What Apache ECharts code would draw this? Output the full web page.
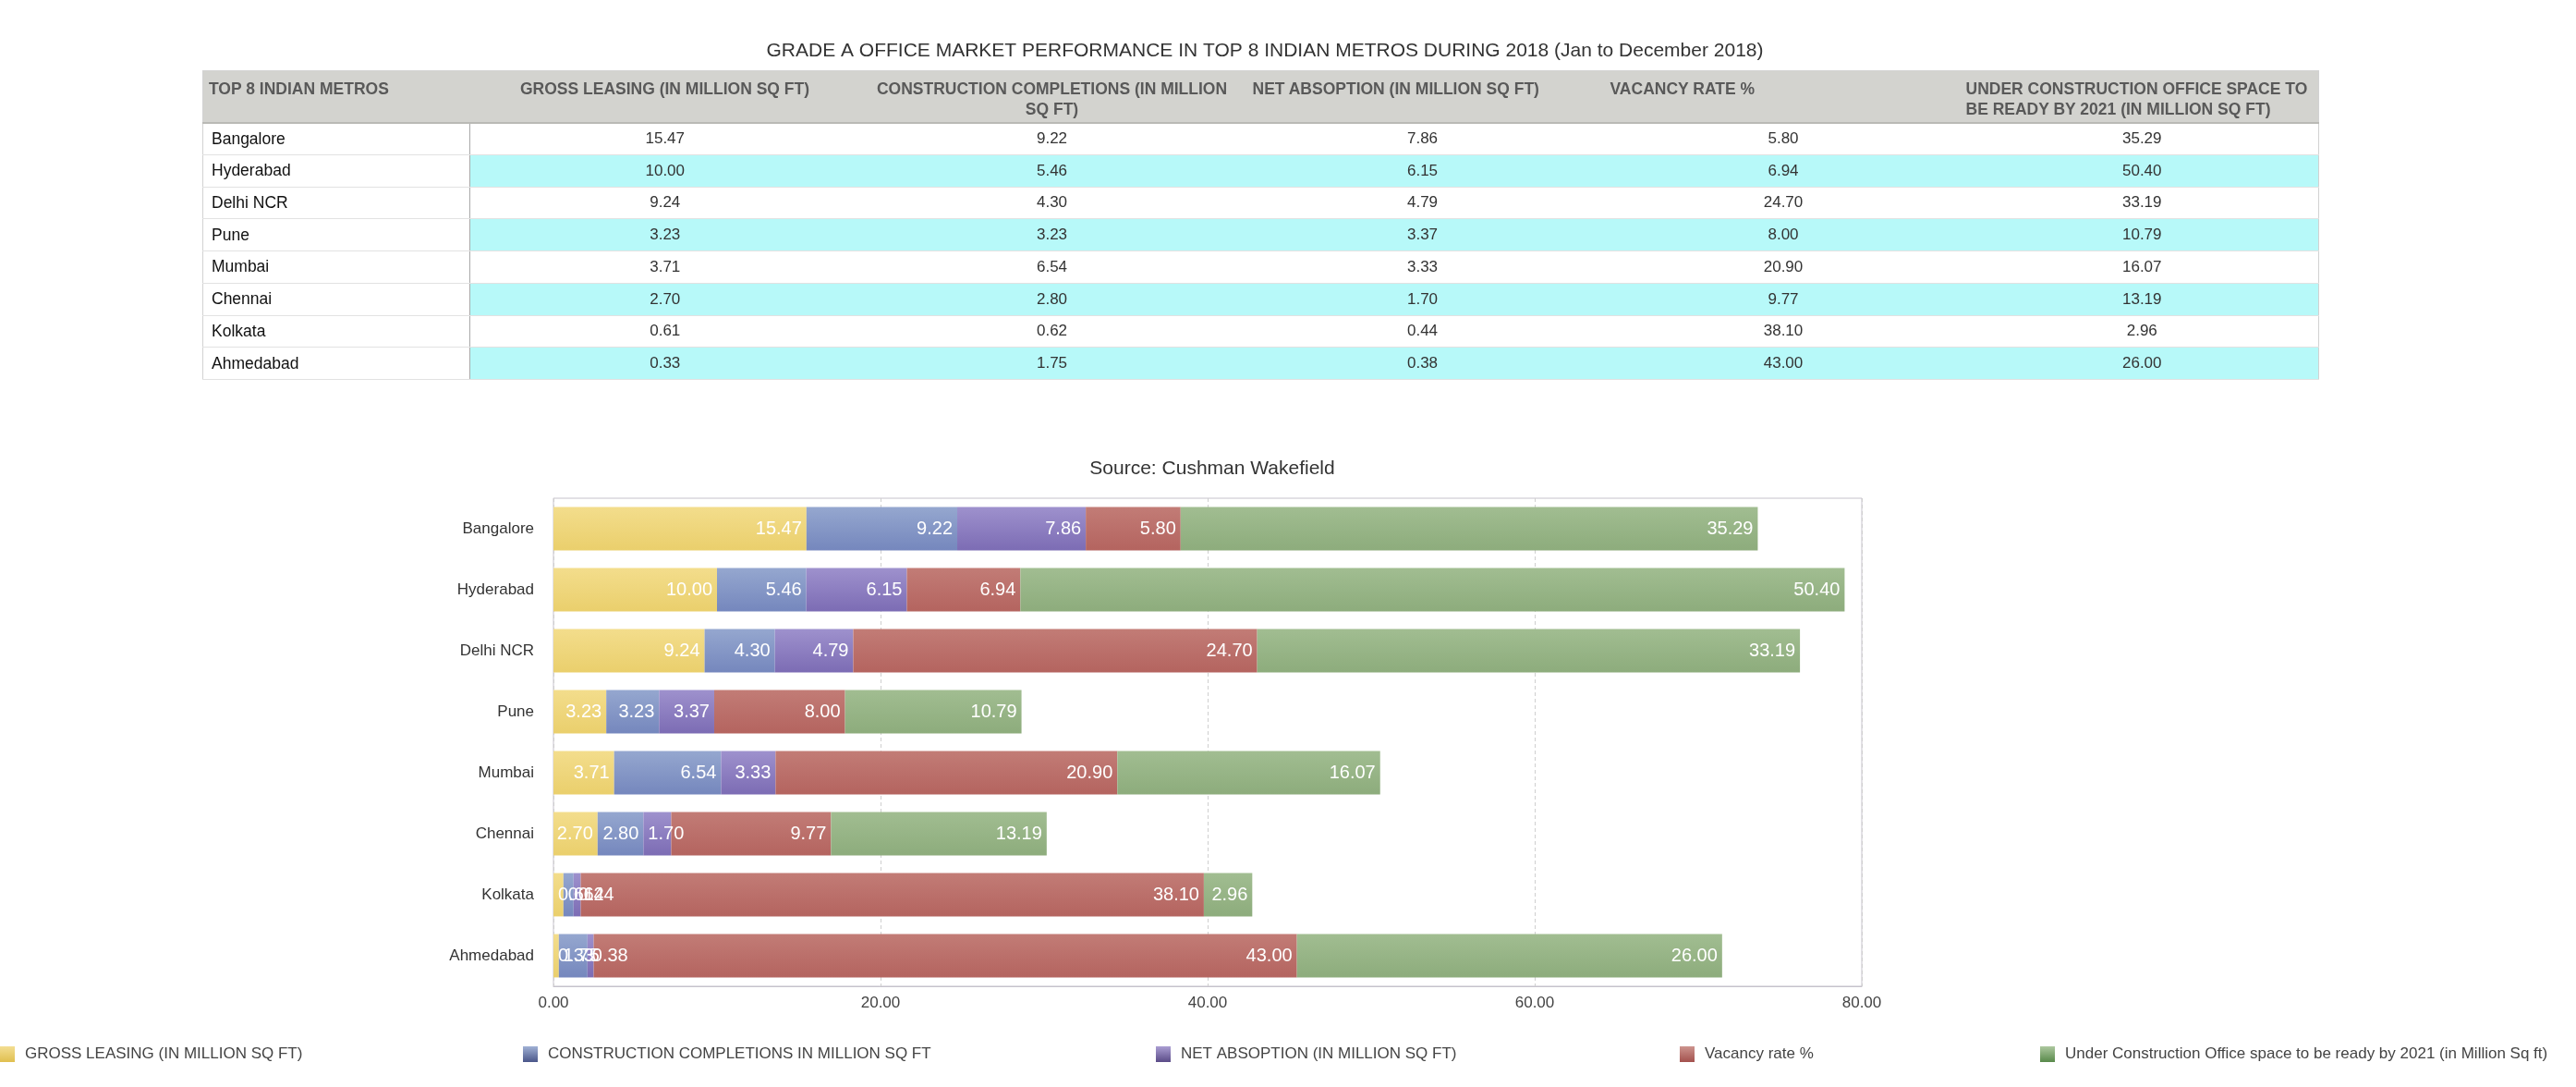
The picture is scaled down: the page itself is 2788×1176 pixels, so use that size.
<!DOCTYPE html>
<html>
<head>
<meta charset="utf-8">
<script src="https://cdn.jsdelivr.net/npm/echarts@6/dist/echarts.min.js"></script>
<style>
html,body{margin:0;padding:0;background:#fff;width:2788px;height:1176px;overflow:hidden;font-family:"Liberation Sans",Arial,Helvetica,sans-serif;}
#chart{position:absolute;left:0;top:0;width:2788px;height:1176px;}
#tbl{position:absolute;left:219px;top:76px;width:2290px;border-collapse:collapse;table-layout:fixed;z-index:2;border:1px solid #d2d2d2;}
#tbl th{background:#d3d3cf;color:#595959;font-weight:bold;font-size:17.5px;line-height:22px;vertical-align:top;padding:0;white-space:pre;border-bottom:2px solid #b9b9b5;}
#tbl th div{padding-top:8px;}
#tbl thead tr{height:56px;}
#tbl tbody tr{height:34.75px;}
#tbl td{font-size:17px;color:#333;text-align:center;vertical-align:middle;padding:0;border-bottom:1px solid #e2e2e2;}
#tbl td.name{text-align:left;padding-left:9px;color:#111;border-right:1px solid #a9a9a9;background:#fff;font-size:17.5px;}
#tbl tr.alt td{background:#b7f9f9;}
#tbl tr.alt td.name{background:#fff;}
</style>
</head>
<body>
<div id="chart"></div>
<table id="tbl"><colgroup id="cols"></colgroup><thead><tr id="head"></tr></thead><tbody id="body"></tbody></table>
<script>
// ---------- DATA ----------
const metros = ["Bangalore", "Hyderabad", "Delhi NCR", "Pune", "Mumbai", "Chennai", "Kolkata", "Ahmedabad"];
const grossLeasing = [15.47, 10.00, 9.24, 3.23, 3.71, 2.70, 0.61, 0.33];
const constructionCompletions = [9.22, 5.46, 4.30, 3.23, 6.54, 2.80, 0.62, 1.75];
const netAbsorption = [7.86, 6.15, 4.79, 3.37, 3.33, 1.70, 0.44, 0.38];
const vacancyRate = [5.80, 6.94, 24.70, 8.00, 20.90, 9.77, 38.10, 43.00];
const underConstruction = [35.29, 50.40, 33.19, 10.79, 16.07, 13.19, 2.96, 26.00];
const tableHeaders = [
  "TOP 8 INDIAN METROS",
  "GROSS LEASING (IN MILLION SQ FT)",
  "CONSTRUCTION COMPLETIONS (IN MILLION\nSQ FT)",
  "NET ABSOPTION (IN MILLION SQ FT)",
  "VACANCY RATE %",
  "UNDER CONSTRUCTION OFFICE SPACE TO\nBE READY BY 2021 (IN MILLION SQ FT)"
];
const seriesNames = [
  "GROSS LEASING (IN MILLION SQ FT)",
  "CONSTRUCTION COMPLETIONS IN MILLION SQ FT",
  "NET ABSOPTION (IN MILLION SQ FT)",
  "Vacancy rate %",
  "Under Construction Office space to be ready by 2021 (in Million Sq ft)"
];
const xTicks = [0, 20, 40, 60, 80];
const mainTitle = "GRADE A OFFICE MARKET PERFORMANCE IN TOP 8 INDIAN METROS DURING 2018 (Jan to December 2018)";
const sourceTitle = "Source: Cushman Wakefield";

// ---------- STYLE ----------
const FONT = '"Liberation Sans", Arial, Helvetica, sans-serif';
const colWidths = [289, 422, 416, 386, 395, 382];
const headAlign = [
  {align:'left', pad:6}, {align:'center', pad:0}, {align:'center', pad:0},
  {align:'left', pad:9}, {align:'left', pad:10}, {align:'left', pad:0}
];
const barColors = [
  ['#f3dd8c', '#eacf6c'],
  ['#95a7cf', '#7587bd'],
  ['#9e91cd', '#7c6cb4'],
  ['#c27c76', '#b4645f'],
  ['#a1bd91', '#8dac7c']
];
const iconColors = [
  ['#f3de92', '#e0bf4f'],
  ['#a0b1d5', '#4a5689'],
  ['#aa9ed3', '#5a4b87'],
  ['#cd948e', '#a3514d'],
  ['#adc89f', '#58894a']
];
const legendLefts = [0, 566, 1251, 1818, 2208];
const LABEL_FIT_MIN = 2.5; // bars narrower than this (in axis units) get their label at the bar start

// ---------- TABLE ----------
const seriesData = [grossLeasing, constructionCompletions, netAbsorption, vacancyRate, underConstruction];
const cols = document.getElementById('cols');
colWidths.forEach(w => { const c = document.createElement('col'); c.style.width = w + 'px'; cols.appendChild(c); });
const head = document.getElementById('head');
tableHeaders.forEach((h, i) => {
  const th = document.createElement('th');
  th.style.textAlign = headAlign[i].align;
  const d = document.createElement('div');
  d.style.paddingLeft = headAlign[i].pad + 'px';
  d.textContent = h;
  th.appendChild(d);
  head.appendChild(th);
});
const body = document.getElementById('body');
metros.forEach((m, r) => {
  const tr = document.createElement('tr');
  if (r % 2 === 1) tr.className = 'alt';
  const tdn = document.createElement('td');
  tdn.className = 'name';
  tdn.textContent = m;
  tr.appendChild(tdn);
  seriesData.forEach(arr => {
    const td = document.createElement('td');
    td.textContent = arr[r].toFixed(2);
    tr.appendChild(td);
  });
  body.appendChild(tr);
});

// ---------- CHART ----------
function grad(c) {
  return new echarts.graphic.LinearGradient(0, 0, 0, 1, [{offset:0, color:c[0]}, {offset:1, color:c[1]}]);
}
const chart = echarts.init(document.getElementById('chart'), null, {renderer:'canvas'});
const option = {
  animation: false,
  textStyle: {fontFamily: FONT},
  title: [
    {text: mainTitle, left: 1364, top: 40, textAlign: 'center',
     textStyle: {fontSize: 21, fontWeight: 'normal', color: '#333', fontFamily: FONT}},
    {text: sourceTitle, left: 1307, top: 492, textAlign: 'center',
     textStyle: {fontSize: 21, fontWeight: 'normal', color: '#333', fontFamily: FONT}}
  ],
  legend: seriesNames.map((n, i) => ({
    data: [{name: n, icon: 'rect', itemStyle: {color: grad(iconColors[i])}}],
    left: legendLefts[i], top: 1132, itemWidth: 16, itemHeight: 17, itemGap: 0,
    selectedMode: false, padding: 0,
    textStyle: {fontSize: 17, color: '#444', fontFamily: FONT, padding: [0, 0, 0, 6]}
  })),
  grid: {left: 599, right: 773, top: 539, bottom: 109, show: true, borderColor: '#c6c2cc', borderWidth: 1, containLabel: false},
  xAxis: {
    type: 'value', min: xTicks[0], max: xTicks[xTicks.length - 1], interval: xTicks[1] - xTicks[0],
    axisLine: {show: true, lineStyle: {color: '#c6c2cc'}},
    axisTick: {show: false},
    axisLabel: {formatter: v => v.toFixed(2), fontSize: 17, color: '#444', margin: 10, fontFamily: FONT},
    splitLine: {show: true, lineStyle: {color: '#cfcfcf', type: [4, 3], width: 1}}
  },
  yAxis: {
    type: 'category', data: metros, inverse: true,
    axisLine: {show: false}, axisTick: {show: false},
    axisLabel: {fontSize: 17, color: '#333', margin: 21, fontFamily: FONT}
  },
  series: seriesData.map((arr, i) => ({
    name: seriesNames[i], type: 'bar', stack: 'total', barCategoryGap: '29%',
    itemStyle: {color: grad(barColors[i])},
    label: {show: true, color: '#fff', fontSize: 20, fontFamily: FONT, distance: 5,
            formatter: p => Number(p.value).toFixed(2)},
    data: arr.map(v => ({value: v, label: {position: v < LABEL_FIT_MIN ? 'insideLeft' : 'insideRight'}}))
  }))
};
chart.setOption(option);
</script>
</body>
</html>
